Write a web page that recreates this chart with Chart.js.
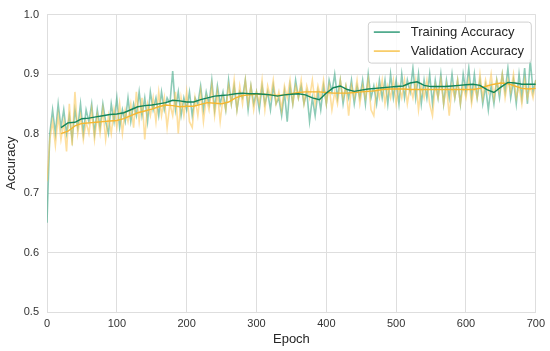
<!DOCTYPE html>
<html>
<head>
<meta charset="utf-8">
<script src="https://cdn.jsdelivr.net/npm/chart.js@4"></script>
<style>
  html, body { margin: 0; padding: 0; background: #fff; }
  canvas { display: block; }
</style>
</head>
<body>
<canvas id="chart" width="550" height="351"></canvas>
<script>
// raw accuracy, read every 4 epochs (0 ... 700)
const rawStep = 4;
const trainRaw = [
  0.65, 0.80, 0.84, 0.80, 0.85, 0.81, 0.84, 0.80, 0.83, 0.79, 0.84, 0.81, 0.85, 0.80, 0.84, 0.82, 0.85, 0.80, 0.84, 0.81, 0.85, 0.82, 0.80, 0.85, 0.82,
  0.86, 0.81, 0.84, 0.82, 0.86, 0.82, 0.85, 0.83, 0.87, 0.83, 0.86, 0.82, 0.87, 0.84, 0.86, 0.83, 0.87, 0.84, 0.86, 0.85, 0.905, 0.84, 0.87, 0.83, 0.86,
  0.84, 0.87, 0.83, 0.86, 0.85, 0.88, 0.84, 0.87, 0.85, 0.89, 0.84, 0.88, 0.85, 0.87, 0.84, 0.89, 0.85, 0.88, 0.84, 0.87, 0.86, 0.89, 0.84, 0.88, 0.85,
  0.87, 0.84, 0.88, 0.85, 0.87, 0.84, 0.88, 0.85, 0.86, 0.83, 0.87, 0.82, 0.88, 0.85, 0.89, 0.86, 0.88, 0.85, 0.87, 0.82, 0.86, 0.83, 0.87, 0.84, 0.88,
  0.85, 0.89, 0.87, 0.90, 0.86, 0.89, 0.85, 0.88, 0.86, 0.89, 0.85, 0.88, 0.86, 0.89, 0.85, 0.90, 0.86, 0.88, 0.85, 0.89, 0.86, 0.89, 0.85, 0.90, 0.86,
  0.89, 0.85, 0.90, 0.86, 0.89, 0.87, 0.91, 0.86, 0.90, 0.85, 0.89, 0.86, 0.90, 0.85, 0.89, 0.86, 0.90, 0.85, 0.89, 0.86, 0.90, 0.86, 0.89, 0.85, 0.90,
  0.87, 0.91, 0.86, 0.90, 0.86, 0.89, 0.85, 0.88, 0.84, 0.88, 0.85, 0.89, 0.86, 0.90, 0.87, 0.91, 0.86, 0.89, 0.85, 0.90, 0.86, 0.91, 0.85, 0.925, 0.87,
  0.89
];
const valRaw = [
  0.72, 0.79, 0.82, 0.78, 0.83, 0.79, 0.82, 0.77, 0.85, 0.78, 0.87, 0.80, 0.83, 0.79, 0.82, 0.80, 0.84, 0.79, 0.83, 0.80, 0.84, 0.79, 0.83, 0.80, 0.84,
  0.81, 0.85, 0.80, 0.84, 0.82, 0.85, 0.81, 0.87, 0.82, 0.86, 0.79, 0.85, 0.83, 0.86, 0.82, 0.87, 0.83, 0.86, 0.81, 0.85, 0.83, 0.87, 0.80, 0.86, 0.83,
  0.87, 0.82, 0.81, 0.86, 0.83, 0.87, 0.82, 0.86, 0.84, 0.88, 0.83, 0.87, 0.82, 0.86, 0.84, 0.88, 0.85, 0.89, 0.84, 0.88, 0.85, 0.89, 0.85, 0.88, 0.84,
  0.87, 0.85, 0.89, 0.84, 0.88, 0.86, 0.89, 0.85, 0.87, 0.84, 0.88, 0.86, 0.89, 0.85, 0.88, 0.86, 0.89, 0.85, 0.88, 0.86, 0.89, 0.85, 0.88, 0.86, 0.89,
  0.85, 0.88, 0.84, 0.87, 0.85, 0.89, 0.86, 0.88, 0.83, 0.88, 0.86, 0.89, 0.85, 0.88, 0.86, 0.89, 0.84, 0.83, 0.88, 0.86, 0.89, 0.85, 0.88, 0.86, 0.89,
  0.85, 0.88, 0.86, 0.89, 0.85, 0.88, 0.86, 0.89, 0.84, 0.88, 0.86, 0.89, 0.85, 0.83, 0.88, 0.86, 0.89, 0.85, 0.88, 0.83, 0.88, 0.86, 0.89, 0.85, 0.88,
  0.86, 0.89, 0.85, 0.88, 0.86, 0.90, 0.86, 0.89, 0.87, 0.90, 0.86, 0.89, 0.87, 0.90, 0.86, 0.89, 0.87, 0.90, 0.86, 0.88, 0.85, 0.89, 0.86, 0.88, 0.86,
  0.89
];

// moving average, every 10 epochs from epoch 20
const smoothStart = 20;
const smoothStep = 10;
const trainSmooth = [
  0.810, 0.818, 0.819, 0.825, 0.826, 0.828, 0.830, 0.832, 0.833,
  0.835, 0.840, 0.845, 0.847, 0.848, 0.850, 0.852, 0.856, 0.855, 0.853,
  0.853, 0.857, 0.860, 0.863, 0.864, 0.865, 0.867, 0.868, 0.867, 0.867,
  0.866, 0.865, 0.863, 0.865, 0.866, 0.867, 0.865, 0.860, 0.857, 0.868,
  0.877, 0.880, 0.874, 0.871, 0.873, 0.875, 0.876, 0.877, 0.878, 0.879,
  0.880, 0.885, 0.887, 0.881, 0.879, 0.879, 0.879, 0.880, 0.881, 0.882,
  0.883, 0.881, 0.874, 0.869, 0.878, 0.886, 0.885, 0.883, 0.883, 0.883
];
const valSmooth = [
  0.800, 0.804, 0.813, 0.817, 0.818, 0.819, 0.820, 0.821, 0.822,
  0.825, 0.830, 0.835, 0.838, 0.841, 0.845, 0.848, 0.847, 0.845, 0.846,
  0.846, 0.849, 0.852, 0.851, 0.850, 0.853, 0.860, 0.864, 0.865, 0.866,
  0.866, 0.865, 0.864, 0.865, 0.867, 0.869, 0.870, 0.870, 0.870, 0.869,
  0.868, 0.868, 0.868, 0.869, 0.870, 0.871, 0.872, 0.874, 0.875, 0.875,
  0.875, 0.874, 0.874, 0.874, 0.874, 0.874, 0.874, 0.874, 0.874, 0.874,
  0.874, 0.876, 0.880, 0.883, 0.885, 0.884, 0.880, 0.876, 0.875, 0.876
];

const seriesLabels = ['Training Accuracy', 'Validation Accuracy'];
const legendColors = ['#3fa282', '#f8c85a'];

const FONT = '"Liberation Sans", Arial, sans-serif';

const toPoints = (vals, start, step) => vals.map((v, i) => ({ x: start + i * step, y: v }));

// legend box drawn inside the plot, top right
const legendBox = {
  id: 'legendBox',
  afterDraw(chart) {
    const { ctx, chartArea } = chart;
    const right = chartArea.right - 5;
    const top = chartArea.top + 7;
    const w = 163, h = 41;
    const left = right - w;
    ctx.save();
    ctx.beginPath();
    ctx.roundRect(left + 0.5, top + 0.5, w, h, 3);
    ctx.fillStyle = 'rgba(255,255,255,0.85)';
    ctx.fill();
    ctx.strokeStyle = '#d0d0d0';
    ctx.lineWidth = 1;
    ctx.stroke();
    ctx.font = '13px ' + FONT;
    ctx.textBaseline = 'middle';
    ctx.fillStyle = '#262626';
    seriesLabels.forEach((lab, i) => {
      const y = top + 10.5 + i * 19;
      ctx.beginPath();
      ctx.moveTo(left + 6, y);
      ctx.lineTo(left + 32, y);
      ctx.strokeStyle = legendColors[i];
      ctx.lineWidth = 1.6;
      ctx.stroke();
      ctx.fillText(lab, left + 43, y);
    });
    ctx.restore();
  }
};

new Chart(document.getElementById('chart').getContext('2d'), {
  type: 'line',
  data: {
    datasets: [
      {
        label: seriesLabels[0] + ' (smoothed)',
        data: toPoints(trainSmooth, smoothStart, smoothStep),
        borderColor: '#13855a',
        borderWidth: 1.4,
        pointRadius: 0,
      },
      {
        label: seriesLabels[1] + ' (smoothed)',
        data: toPoints(valSmooth, smoothStart, smoothStep),
        borderColor: '#f6b730',
        borderWidth: 1.4,
        pointRadius: 0,
      },
      {
        label: seriesLabels[1],
        data: toPoints(valRaw, 0, rawStep),
        borderColor: 'rgba(252, 196, 80, 0.55)',
        borderWidth: 1.6,
        pointRadius: 0,
      },
      {
        label: seriesLabels[0],
        data: toPoints(trainRaw, 0, rawStep),
        borderColor: 'rgba(48, 160, 124, 0.55)',
        borderWidth: 1.6,
        pointRadius: 0,
      },
    ],
  },
  options: {
    responsive: false,
    animation: false,
    devicePixelRatio: 1,
    layout: { padding: { top: 7, right: 13, left: 0, bottom: 0 } },
    plugins: {
      legend: { display: false },
      tooltip: { enabled: false },
    },
    scales: {
      x: {
        type: 'linear',
        min: 0,
        max: 700,
        ticks: { stepSize: 100, color: '#333', font: { family: FONT, size: 11 }, padding: 5 },
        grid: { color: '#dedede', drawTicks: false },
        border: { color: '#dedede' },
        title: { display: true, text: 'Epoch', color: '#262626', font: { family: FONT, size: 13 } },
        afterFit: (s) => { s.height = 39; },
      },
      y: {
        min: 0.5,
        max: 1.0,
        ticks: {
          stepSize: 0.1,
          color: '#333',
          font: { family: FONT, size: 11 },
          padding: 8,
          callback: (v) => v.toFixed(1),
        },
        grid: { color: '#dedede', drawTicks: false },
        border: { color: '#dedede' },
        title: { display: true, text: 'Accuracy', color: '#262626', font: { family: FONT, size: 13 } },
        afterFit: (s) => { s.width = 47; },
      },
    },
  },
  plugins: [legendBox],
});
</script>
</body>
</html>
